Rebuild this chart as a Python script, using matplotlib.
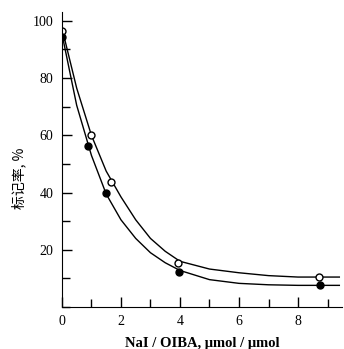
import matplotlib
matplotlib.use("Agg")
import matplotlib.pyplot as plt
from matplotlib.ticker import MultipleLocator

# measured points
x_open = [0.0, 0.97, 1.65, 3.93, 8.7]
y_open = [96.5, 60.0, 43.7, 15.3, 10.4]
x_fill = [0.0, 0.88, 1.49, 3.97, 8.73]
y_fill = [94.5, 56.4, 39.8, 12.2, 7.7]

# smooth curves
curve_x = [0, 0.5, 1, 1.5, 2, 2.5, 3, 3.5, 4, 5, 6, 7, 8, 9.4]
curve_open = [97.5, 76.5, 60, 47.5, 38.5, 30.5, 24, 19.5, 16, 13.3, 12, 11, 10.5, 10.5]
curve_fill = [95.5, 70.5, 53, 39.5, 30.5, 24, 19, 15.5, 12.8, 9.6, 8.3, 7.8, 7.6, 7.6]

serif = ["Liberation Serif", "DejaVu Serif"]

fig = plt.figure(figsize=(3.44, 3.49), dpi=100)
ax = fig.add_axes([0.180, 0.120, 0.815, 0.845])

ax.plot(curve_x, curve_open, color="black", lw=1.0)
ax.plot(curve_x, curve_fill, color="black", lw=1.0)
ax.plot(x_open, y_open, "o", mfc="white", mec="black", mew=1.0, ms=5)
ax.plot(x_fill, y_fill, "o", color="black", ms=5)

ax.set_xlim(0, 9.5)
ax.set_ylim(0, 103)
ax.spines["top"].set_visible(False)
ax.spines["right"].set_visible(False)

ax.set_xticks([0, 2, 4, 6, 8])
ax.xaxis.set_minor_locator(MultipleLocator(1))
ax.set_yticks([20, 40, 60, 80, 100])
ax.yaxis.set_minor_locator(MultipleLocator(10))
ax.tick_params(which="both", direction="in", width=1.0)
ax.tick_params(which="major", length=7, pad=6)
ax.tick_params(which="minor", length=6)
for lab in ax.get_xticklabels() + ax.get_yticklabels():
    lab.set_fontfamily(serif)
    lab.set_fontsize(10)

ax.set_xlabel("NaI / OIBA, μmol / μmol", family=serif, fontsize=10.5,
              fontweight="bold", labelpad=6)
fig.text(0.055, 0.49, "标记率, %", rotation=90, ha="center", va="center",
         family=["Noto Sans CJK SC", "DejaVu Sans"], fontsize=10)

fig.savefig("out.png", dpi=100)
